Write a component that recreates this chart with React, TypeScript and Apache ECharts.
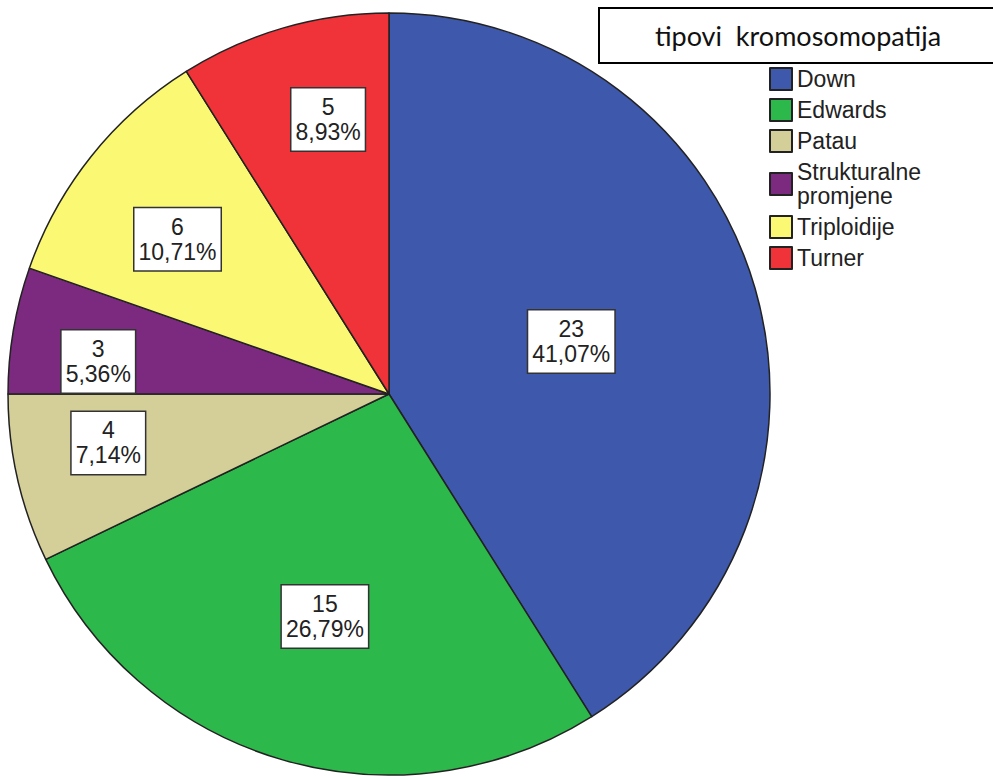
import React, { useEffect, useRef } from "react";
import * as echarts from "echarts";

const categories = ["Down", "Edwards", "Patau", "Strukturalne\npromjene", "Triploidije", "Turner"];
const counts = [23, 15, 4, 3, 6, 5];
const colors = ["#3E58AC", "#2DB84B", "#D4CE99", "#7B2A7F", "#FBF873", "#EF3338"];
const titleText = "tipovi  kromosomopatija";

// label placement styling (radius fraction and small angle nudge, degrees)
const labelRadiusFrac = [0.49, 0.6, 0.74, 0.76, 0.68, 0.73];
const labelAngleNudge = [0, 0, 3, -3.3, -2.4, 3.6];

export default function App() {
  const ref = useRef<HTMLDivElement>(null);
  useEffect(() => {
    if (!ref.current) return;
    const chart = echarts.init(ref.current, undefined, { renderer: "svg" });
    const total = counts.reduce((a, b) => a + b, 0);
    const cx = 389;
    const cy = 394;
    const R = 381;
    const mids: number[] = [];
    let acc = 0;
    counts.forEach((v) => {
      mids.push(((acc + v / 2) / total) * 360);
      acc += v;
    });
    chart.setOption({
      animation: false,
      graphic: [
        {
          type: "rect",
          shape: { x: 599, y: 8, width: 420, height: 55 },
          style: { fill: "#fff", stroke: "#000", lineWidth: 2 },
          z: 10,
        },
        {
          type: "text",
          x: 798,
          y: 35,
          style: {
            text: titleText,
            font: "27px Lato",
            fill: "#111",
            align: "center",
            verticalAlign: "middle",
          },
          z: 11,
        },
      ],
      legend: {
        orient: "vertical",
        left: 769,
        top: 67,
        padding: 0,
        itemWidth: 22,
        itemHeight: 22,
        itemGap: 7,
        selectedMode: false,
        icon: "rect",
        textStyle: {
          fontSize: 23,
          lineHeight: 24,
          color: "#222",
          fontFamily: "Liberation Sans",
        },
        data: categories,
      },
      series: [
        {
          type: "pie",
          center: [cx, cy],
          radius: R,
          startAngle: 90,
          clockwise: true,
          avoidLabelOverlap: false,
          emphasis: { disabled: true },
          itemStyle: { borderColor: "#222", borderWidth: 1.5 },
          label: {
            show: true,
            position: "inside",
            formatter: (p: any) =>
              `${p.value}\n${((p.value / total) * 100).toFixed(2).replace(".", ",")}%`,
            backgroundColor: "#fff",
            borderColor: "#333",
            borderWidth: 1.5,
            padding: [6, 4],
            fontSize: 23,
            lineHeight: 25,
            color: "#222",
            fontFamily: "Liberation Sans",
          },
          labelLayout: (params: any) => {
            const i = params.dataIndex;
            const a0 = (mids[i] * Math.PI) / 180;
            const a = ((mids[i] + labelAngleNudge[i]) * Math.PI) / 180;
            const f = labelRadiusFrac[i];
            const defX = cx + 0.5 * R * Math.sin(a0);
            const defY = cy - 0.5 * R * Math.cos(a0);
            const tx = cx + f * R * Math.sin(a);
            const ty = cy - f * R * Math.cos(a);
            return { dx: tx - defX, dy: ty - defY };
          },
          data: categories.map((name, i) => ({
            name,
            value: counts[i],
            itemStyle: { color: colors[i] },
          })),
        },
      ],
    });
    return () => chart.dispose();
  }, []);
  return (
    <div
      ref={ref}
      style={{ position: "fixed", left: 0, top: 0, width: 993, height: 776, background: "#fff" }}
    />
  );
}
